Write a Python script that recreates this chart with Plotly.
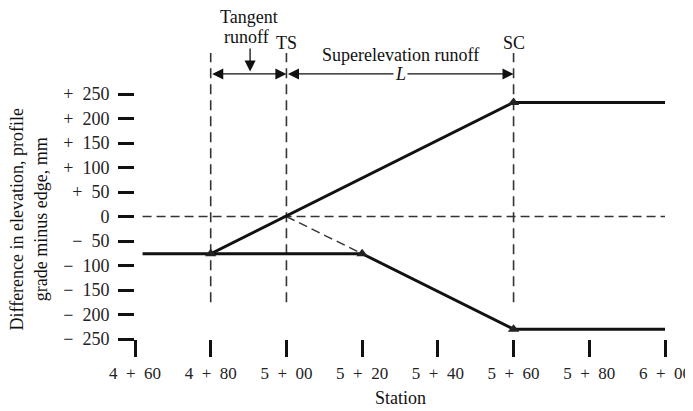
import plotly.graph_objects as go

# ---- data ----
station_ticks = [460, 480, 500, 520, 540, 560, 580, 600]
station_labels = ["4\u2002+\u200260", "4\u2002+\u200280", "5\u2002+\u200200", "5\u2002+\u200220",
                  "5\u2002+\u200240", "5\u2002+\u200260", "5\u2002+\u200280", "6\u2002+\u200200"]
diff_ticks = [250, 200, 150, 100, 50, 0, -50, -100, -150, -200, -250]
diff_labels = ["+\u2002250", "+\u2002200", "+\u2002150", "+\u2002100", "+\u200250", "0",
               "\u2212\u200250", "\u2212\u2002100", "\u2212\u2002150", "\u2212\u2002200", "\u2212\u2002250"]

upper_station = [462, 480, 560, 600]
upper_diff = [-76, -76, 233, 233]
lower_station = [480, 520, 560, 600]
lower_diff = [-76, -76, -230, -230]
rotated_station = [500, 520]
rotated_diff = [0, -76]
zero_station = [462, 600]
zero_diff = [0, 0]
marker_station = [480, 520, 560, 560]
marker_diff = [-76, -76, 233, -230]
guide_stations = [480, 500, 560]
guide_diff = [-175, 334]

TS, SC, TR = 500, 560, 480
arrow_level = 291

FONT = "Liberation Serif, Times New Roman, serif"
INK = "#111111"
DASH = "#333333"

fig = go.Figure()

for s in guide_stations:
    fig.add_trace(go.Scatter(x=[s, s], y=guide_diff, mode="lines",
                             line=dict(color=DASH, width=1.6, dash="10px,6px"),
                             showlegend=False, hoverinfo="skip"))

fig.add_trace(go.Scatter(x=zero_station, y=zero_diff, mode="lines",
                         line=dict(color=DASH, width=1.4, dash="9px,5px"),
                         showlegend=False, hoverinfo="skip"))
fig.add_trace(go.Scatter(x=rotated_station, y=rotated_diff, mode="lines",
                         line=dict(color=DASH, width=1.4, dash="9px,5px"),
                         showlegend=False, hoverinfo="skip"))

fig.add_trace(go.Scatter(x=upper_station, y=upper_diff, mode="lines",
                         line=dict(color=INK, width=3), showlegend=False))
fig.add_trace(go.Scatter(x=lower_station, y=lower_diff, mode="lines",
                         line=dict(color=INK, width=3), showlegend=False))
fig.add_trace(go.Scatter(x=marker_station, y=marker_diff, mode="markers",
                         marker=dict(symbol="triangle-up", size=10, color="#222222"),
                         showlegend=False))

tf = dict(family=FONT, size=18, color=INK)
annotations = []
# tangent runoff double arrow
annotations.append(dict(x=TS, y=arrow_level, ax=TR, ay=arrow_level, xref="x", yref="y",
                        axref="x", ayref="y", text="", showarrow=True, arrowhead=2,
                        arrowside="end+start", arrowsize=1.7, arrowwidth=1.3, arrowcolor=INK,
                        standoff=0, startstandoff=0))
# superelevation runoff double arrow
annotations.append(dict(x=SC, y=arrow_level, ax=TS, ay=arrow_level, xref="x", yref="y",
                        axref="x", ayref="y", text="", showarrow=True, arrowhead=2,
                        arrowside="end+start", arrowsize=1.7, arrowwidth=1.3, arrowcolor=INK,
                        standoff=0, startstandoff=0))
annotations.append(dict(x=(TS + SC) / 2, y=arrow_level, xref="x", yref="y", text="<i>L</i>",
                        showarrow=False, bgcolor="white", borderpad=1, font=tf))
annotations.append(dict(x=(TS + SC) / 2, y=arrow_level, xref="x", yref="y",
                        text="Superelevation runoff", showarrow=False, yshift=19, font=tf))
annotations.append(dict(x=TS, y=arrow_level, xref="x", yref="y", text="TS", showarrow=False,
                        yshift=31, font=tf))
annotations.append(dict(x=SC, y=arrow_level, xref="x", yref="y", text="SC", showarrow=False,
                        yshift=31, font=tf))
annotations.append(dict(x=490, y=arrow_level, xref="x", yref="y", text="Tangent", showarrow=False,
                        yshift=57, font=tf))
annotations.append(dict(x=490, y=arrow_level, xref="x", yref="y", text="runoff", showarrow=False,
                        yshift=37, xshift=-2, font=tf))
annotations.append(dict(x=490.4, y=296, ax=490.4, ay=346, xref="x", yref="y", axref="x", ayref="y",
                        text="", showarrow=True, arrowhead=2, arrowsize=1.7, arrowwidth=1.3,
                        arrowcolor=INK, standoff=0))
# axis titles
annotations.append(dict(x=-0.2, y=0, xref="paper", yref="y", xanchor="center", yanchor="middle",
                        text="Difference in elevation, profile<br>grade minus edge, mm",
                        textangle=-90, showarrow=False, yshift=-3,
                        font=dict(family=FONT, size=18, color=INK)))
annotations.append(dict(x=530, y=-0.245, xref="x", yref="paper", yanchor="bottom",
                        text="Station", showarrow=False,
                        font=dict(family=FONT, size=18, color=INK)))

# the page adds an 8px body margin at top/left, so the figure is sized to compensate
fig.update_layout(
    width=685, height=403,
    margin=dict(l=127, r=28, t=40, b=72, autoexpand=False),
    paper_bgcolor="white", plot_bgcolor="white",
    annotations=annotations,
    xaxis=dict(range=[460, 600], tickvals=station_ticks, ticktext=station_labels,
               ticks="outside", ticklen=17, tickwidth=2.6, tickcolor=INK, automargin=False,
               showgrid=False, zeroline=False, showline=False,
               tickfont=dict(family=FONT, size=17, color="#222222"), ticklabelstandoff=2),
    yaxis=dict(range=[-250, 344], tickvals=diff_ticks, ticktext=diff_labels,
               ticks="outside", ticklen=16, tickwidth=2.6, tickcolor=INK, automargin=False,
               showgrid=False, zeroline=False, showline=False,
               tickfont=dict(family=FONT, size=18, color="#222222"), ticklabelstandoff=5),
)

fig.write_html("out.html")
